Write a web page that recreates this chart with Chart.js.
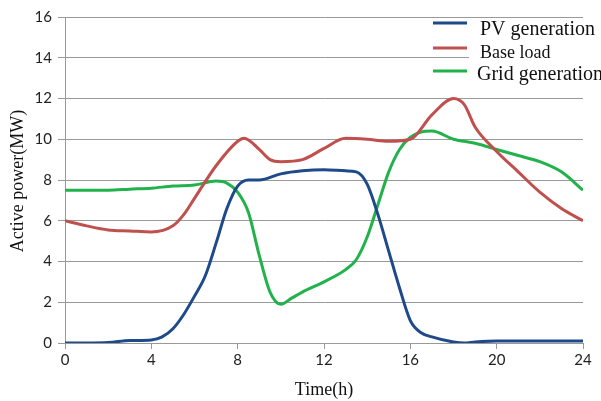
<!DOCTYPE html>
<html lang="en">
<head>
    <meta charset="UTF-8">
    <title>Active power over a day</title>
    <script src="https://cdn.jsdelivr.net/npm/chart.js@4/dist/chart.umd.min.js"></script>
    <style>
        html, body {
            margin: 0;
            padding: 0;
            background: #fff;
        }
        .chart-container {
            position: relative;
            width: 601px;
            height: 401px;
        }
    </style>
</head>
<body>
    <div class="chart-container">
        <canvas id="powerChart"></canvas>
    </div>

    <script>
        // Hourly profiles (MW)
        const pvHours = [0, 1, 2, 3, 4, 4.5, 5, 5.5, 6, 6.5, 7, 7.5, 8, 8.5, 9, 10, 11, 12, 13, 13.5, 14, 14.5, 15, 15.5, 16, 16.5, 17, 18, 18.5, 19, 20, 21, 22, 23, 24];
        const pvValues = [0, 0, 0.02, 0.12, 0.15, 0.3, 0.7, 1.4, 2.3, 3.3, 4.9, 6.6, 7.7, 8.0, 8.0, 8.3, 8.45, 8.5, 8.45, 8.4, 7.8, 6.3, 4.5, 2.7, 1.1, 0.5, 0.3, 0.05, 0.0, 0.05, 0.1, 0.1, 0.1, 0.1, 0.1];

        const loadHours = [0, 1, 2, 3, 4, 5, 5.5, 6, 7, 8, 8.3, 9, 9.5, 10, 11, 12, 13, 14, 15, 16, 17, 18, 18.5, 19, 20, 21, 22, 23, 24];
        const loadValues = [6.0, 5.75, 5.55, 5.5, 5.45, 5.75, 6.3, 7.1, 8.7, 9.9, 10.05, 9.5, 9.0, 8.9, 9.0, 9.55, 10.05, 10.0, 9.9, 10.0, 11.2, 12.0, 11.7, 10.6, 9.4, 8.4, 7.4, 6.6, 6.0];

        const gridHours = [0, 2, 3, 4, 5, 6, 7, 7.5, 8, 8.5, 9, 9.5, 10, 10.5, 11, 12, 13, 13.5, 14, 14.5, 15, 15.5, 16, 16.5, 17, 18, 19, 20, 21, 22, 23, 24];
        const gridValues = [7.5, 7.5, 7.55, 7.6, 7.7, 7.75, 7.95, 7.85, 7.4, 6.4, 4.3, 2.5, 1.9, 2.2, 2.5, 3.0, 3.6, 4.1, 5.2, 6.8, 8.4, 9.5, 10.1, 10.35, 10.4, 10.0, 9.8, 9.5, 9.2, 8.9, 8.4, 7.5];

        const seriesLabels = ['PV generation', 'Base load', 'Grid generation'];
        const seriesColors = ['#1f4a8a', '#c0504d', '#22b24c'];
        const xTicks = [0, 4, 8, 12, 16, 20, 24];
        const yTitle = 'Active power(MW)';

        function toPoints(hours, values) {
            return hours.map((h, i) => ({ x: h, y: values[i] }));
        }

        // Legend over the top-right corner of the plot, plus the rotated y title
        const cornerLegend = {
            id: 'cornerLegend',
            afterDraw(chart) {
                const ctx = chart.ctx;
                const area = chart.chartArea;
                ctx.save();
                ctx.fillStyle = '#fff';
                ctx.fillRect(469, 19, 132, 66);
                const rows = [
                    { lineY: 23, textY: 30, textX: 480, size: 20 },
                    { lineY: 48, textY: 53, textX: 480, size: 18 },
                    { lineY: 71, textY: 75, textX: 477, size: 20 }
                ];
                rows.forEach((r, i) => {
                    ctx.strokeStyle = seriesColors[i];
                    ctx.lineWidth = 3;
                    ctx.beginPath();
                    ctx.moveTo(433, r.lineY);
                    ctx.lineTo(467, r.lineY);
                    ctx.stroke();
                    ctx.fillStyle = '#111';
                    ctx.font = r.size + 'px "Liberation Serif", serif';
                    ctx.textBaseline = 'middle';
                    ctx.textAlign = 'left';
                    ctx.fillText(seriesLabels[i], r.textX, r.textY);
                });

                ctx.translate(18, (area.top + area.bottom) / 2 + 1);
                ctx.rotate(-Math.PI / 2);
                ctx.fillStyle = '#111';
                ctx.font = '18px "Liberation Serif", serif';
                ctx.textAlign = 'center';
                ctx.textBaseline = 'middle';
                ctx.fillText(yTitle, 0, 0);
                ctx.restore();
            }
        };

        const datasets = [
            toPoints(pvHours, pvValues),
            toPoints(loadHours, loadValues),
            toPoints(gridHours, gridValues)
        ].map((data, i) => ({
            label: seriesLabels[i],
            data: data,
            borderColor: seriesColors[i],
            borderWidth: 3,
            pointRadius: 0,
            fill: false,
            cubicInterpolationMode: 'monotone'
        }));

        new Chart(document.getElementById('powerChart'), {
            type: 'line',
            data: { datasets: datasets },
            plugins: [cornerLegend],
            options: {
                responsive: true,
                maintainAspectRatio: false,
                animation: false,
                layout: { padding: { left: 0, right: 18, top: 17, bottom: 0 } },
                plugins: {
                    legend: { display: false },
                    tooltip: { enabled: false }
                },
                scales: {
                    x: {
                        type: 'linear',
                        min: 0,
                        max: 24,
                        afterBuildTicks(scale) {
                            scale.ticks = xTicks.map(v => ({ value: v }));
                        },
                        afterFit(scale) { scale.height = 58; },
                        grid: {
                            drawOnChartArea: false,
                            color: '#999',
                            tickLength: 6
                        },
                        border: { color: '#999' },
                        ticks: {
                            color: '#222',
                            padding: 2,
                            maxRotation: 0,
                            font: { family: 'Lato', size: 15 }
                        },
                        title: {
                            display: true,
                            text: 'Time(h)',
                            color: '#111',
                            padding: { top: 2, bottom: 0 },
                            font: { family: '"Liberation Serif", serif', size: 18 }
                        }
                    },
                    y: {
                        min: 0,
                        max: 16,
                        ticks: {
                            stepSize: 2,
                            color: '#222',
                            padding: 6,
                            font: { family: 'Lato', size: 15 }
                        },
                        afterFit(scale) { scale.width = 65; },
                        grid: {
                            color: '#9a9a9a',
                            tickLength: 7
                        },
                        border: { color: '#999' }
                    }
                }
            }
        });
    </script>
</body>
</html>
